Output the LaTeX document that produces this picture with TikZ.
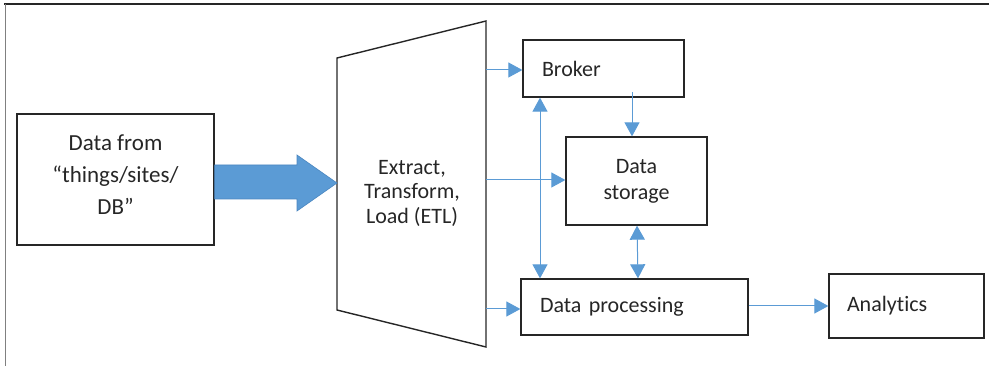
\documentclass[tikz,border=0pt]{standalone}
\usepackage{fontspec}
\setmainfont{Carlito}[Ligatures=NoCommon]
\usetikzlibrary{arrows.meta}
\definecolor{flow}{HTML}{5B9BD5}
\definecolor{flowedge}{HTML}{4A86C0}
\definecolor{boxline}{HTML}{262626}
\tikzset{
  box/.style={draw=boxline, line width=1.3pt, rectangle, inner sep=0pt,
    font=\fontsize{22}{26}\selectfont, text=black!85},
  leftbox/.style={box, align=left, inner xsep=19pt},
  link/.style={draw=flow, line width=1pt,
    -{Triangle[length=14pt,width=15pt]}},
  twoway/.style={draw=flow, line width=1pt,
    {Triangle[length=14pt,width=15pt]}-{Triangle[length=14pt,width=15pt]}},
}
\begin{document}
\begin{tikzpicture}[x=1pt,y=-1pt]
\useasboundingbox (0,0) rectangle (989,366);

% frame
\draw[black!85, line width=1.3pt] (4,4) -- (989,4);
\draw[gray, line width=1pt] (5,4) -- (5,366);

% source box and its caption
\node[box, minimum width=197pt, minimum height=131pt] (src) at (115.5,179.5) {};
\node[font=\fontsize{23}{32}\selectfont, text=black!85, align=center] (srctext) at (115.5,175)
  {Data from\\“things/sites/\\DB”};

% ETL trapezoid
\coordinate (etlTL) at (337,58);
\coordinate (etlTR) at (486,21);
\coordinate (etlBR) at (486,347);
\coordinate (etlBL) at (337,310);
\draw[boxline, line width=1.4pt, line join=miter] (etlTL) -- (etlTR) -- (etlBR) -- (etlBL) -- cycle;
\node[font=\fontsize{22}{24.5}\selectfont, text=black!85, align=center] (etl) at (412,193)
  {Extract,\\Transform,\\Load (ETL)};

% block arrow into ETL
\draw[fill=flow, draw=flowedge, line width=0.6pt, line join=miter]
  (src.east |- 0,165) -- (297,165) -- (297,155) -- (etlTL |- 0,183) -- (297,211) -- (297,199) -- (src.east |- 0,199) -- cycle;

% right-hand boxes
\node[leftbox, minimum width=161pt, minimum height=57pt, text width=123pt] (broker) at (603.5,68.5) {Broker};
\node[box, minimum width=141pt, minimum height=88pt, align=center] (store) at (636.5,181) {Data\\storage};
\node[leftbox, minimum width=227pt, minimum height=56pt, text width=189pt] (proc) at (634.5,307) {Data processing};
\node[leftbox, minimum width=155pt, minimum height=64pt, text width=119pt, inner xsep=18pt] (ana) at (906.5,306) {Analytics};

% connectors
\coordinate (o1) at (486,70);
\coordinate (o2) at (486,180);
\coordinate (o3) at (486,309);
\draw[link] (o1) -- (o1 -| broker.west);
\draw[link] (o2) -- (o2 -| store.west);
\draw[link] (o3) -- (o3 -| proc.west);

\coordinate (bp) at (540,0);
\draw[twoway] (bp |- broker.south) -- (bp |- proc.north);

\coordinate (bs) at (632,92);
\draw[link] (bs) -- (bs |- store.north);

\draw[twoway] (637,0 |- store.south) -- (638,0 |- proc.north);

\coordinate (pa) at (748,306);
\draw[link] (pa -| proc.east) -- (pa -| ana.west);
\end{tikzpicture}
\end{document}
